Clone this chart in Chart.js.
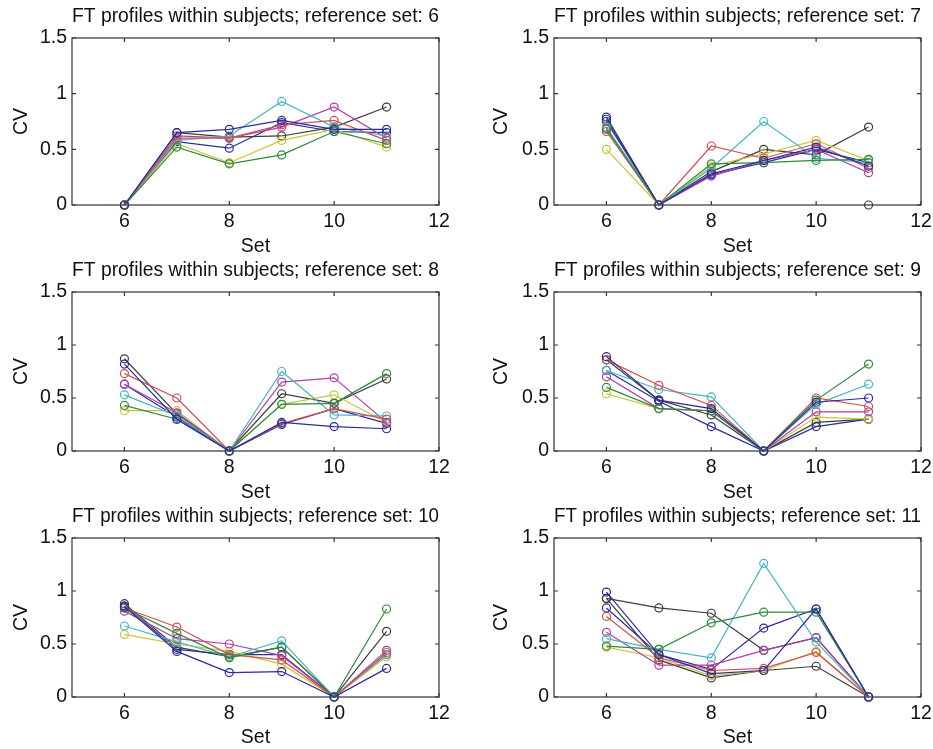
<!DOCTYPE html>
<html lang="en">
<head>
  <meta charset="UTF-8">
  <title>FT profiles within subjects</title>
  <script src="https://cdn.jsdelivr.net/npm/chart.js"></script>
  <style>
    body { margin: 0; background: #fff; overflow: hidden; }
    #figure { position: relative; width: 933px; height: 749px; overflow: hidden; background: #fff; }
    #figure canvas { position: absolute; }
  </style>
</head>
<body>
  <div id="figure"></div>
  <script>
    // Sets on the x axis, same for every panel
    const sets = [6, 7, 8, 9, 10, 11];
    const refSets = [6, 7, 8, 9, 10, 11];
    const xTicks = [6, 8, 10, 12];
    const yTicks = [0, 0.5, 1, 1.5];

    // CV per subject (one row per subject, one value per set)
    const ref6 = [
      [0, 0.65, 0.68, 0.76, 0.68, 0.68],
      [0, 0.52, 0.37, 0.45, 0.66, 0.55],
      [0, 0.60, 0.60, 0.72, 0.76, 0.58],
      [0, 0.58, 0.62, 0.93, 0.70, 0.62],
      [0, 0.62, 0.60, 0.70, 0.88, 0.60],
      [0, 0.55, 0.38, 0.58, 0.68, 0.52],
      [0, 0.65, 0.61, 0.62, 0.70, 0.88],
      [0, 0.57, 0.51, 0.74, 0.66, 0.65],
    ];
    const ref7 = [
      [0.79, 0, 0.28, 0.40, 0.52, 0.35],
      [0.68, 0, 0.37, 0.38, 0.40, 0.41],
      [0.66, 0, 0.53, 0.42, 0.55, 0.33],
      [0.70, 0, 0.33, 0.75, 0.42, 0.38],
      [0.69, 0, 0.26, 0.40, 0.50, 0.29],
      [0.50, 0, 0.35, 0.46, 0.58, 0.40],
      [0.77, 0, 0.30, 0.50, 0.45, 0.70],
      [0.75, 0, 0.27, 0.38, 0.50, 0.38],
      [null, null, null, null, null, 0],
    ];
    const ref8 = [
      [0.82, 0.30, 0, 0.27, 0.23, 0.21],
      [0.43, 0.30, 0, 0.44, 0.45, 0.73],
      [0.73, 0.50, 0, 0.26, 0.40, 0.30],
      [0.53, 0.33, 0, 0.75, 0.34, 0.33],
      [0.63, 0.36, 0, 0.65, 0.69, 0.27],
      [0.38, 0.38, 0, 0.44, 0.53, 0.27],
      [0.87, 0.35, 0, 0.54, 0.45, 0.68],
      [0.63, 0.32, 0, 0.25, 0.40, 0.26],
    ];
    const ref9 = [
      [0.89, 0.48, 0.40, 0, 0.46, 0.50],
      [0.60, 0.40, 0.38, 0, 0.48, 0.82],
      [0.86, 0.62, 0.43, 0, 0.50, 0.42],
      [0.76, 0.58, 0.51, 0, 0.44, 0.63],
      [0.70, 0.40, 0.38, 0, 0.37, 0.37],
      [0.54, 0.40, 0.38, 0, 0.32, 0.30],
      [0.86, 0.48, 0.34, 0, 0.27, 0.30],
      [0.76, 0.47, 0.23, 0, 0.23, 0.30],
    ];
    const ref10 = [
      [0.85, 0.43, 0.23, 0.24, 0, 0.27],
      [0.84, 0.60, 0.37, 0.47, 0, 0.83],
      [0.84, 0.66, 0.40, 0.35, 0, 0.42],
      [0.67, 0.52, 0.38, 0.53, 0, 0.40],
      [0.81, 0.55, 0.50, 0.39, 0, 0.44],
      [0.59, 0.50, 0.43, 0.31, 0, 0.38],
      [0.88, 0.47, 0.38, 0.47, 0, 0.62],
      [0.86, 0.45, 0.40, 0.40, 0, 0.40],
    ];
    const ref11 = [
      [0.99, 0.40, 0.22, 0.25, 0.83, 0],
      [0.48, 0.45, 0.70, 0.80, 0.80, 0],
      [0.76, 0.37, 0.25, 0.27, 0.42, 0],
      [0.55, 0.45, 0.37, 1.26, 0.52, 0],
      [0.61, 0.30, 0.30, 0.44, 0.56, 0],
      [0.47, 0.37, 0.20, 0.25, 0.43, 0],
      [0.93, 0.84, 0.79, 0.44, 0.56, 0],
      [0.84, 0.40, 0.26, 0.65, 0.83, 0],
      [0.93, 0.35, 0.18, 0.25, 0.29, 0],
    ];
    const panels = [ref6, ref7, ref8, ref9, ref10, ref11];

    // matlab-ish line colour order
    const colorOrder = ['b', 'g', 'r', 'c', 'm', 'y', 'k', 'b', 'k'];
    const palette = {
      b: '#2b2b9c', g: '#2e8a3a', r: '#d2504f', c: '#46b4c6',
      m: '#b23ea6', y: '#c9c43c', k: '#3c3c3c',
    };

    // grid of subplots (px)
    const cols = [
      { left: 0, width: 466, padLeft: 0, padRight: 27, yw: 72 },
      { left: 462, width: 480, padLeft: 18, padRight: 21, yw: 74 },
    ];
    const rows = [
      { top: 0, height: 258, xh: 53 },
      { top: 254, height: 250, xh: 53 },
      { top: 500, height: 249, xh: 52 },
    ];

    const textColor = '#111';
    const axisColor = '#333';
    const tickLen = 4;
    const font = { family: "'Liberation Sans', Arial, sans-serif", size: 19.5, weight: 'normal', lineHeight: '22px' };

    // box round the axes + inward ticks on all four sides
    const boxPlugin = {
      id: 'matlabBox',
      beforeDatasetsDraw(chart) {
        const { ctx, chartArea: a, scales: { x, y } } = chart;
        ctx.save();
        ctx.strokeStyle = axisColor;
        ctx.lineWidth = 1.2;
        ctx.strokeRect(a.left, a.top, a.right - a.left, a.bottom - a.top);
        ctx.beginPath();
        xTicks.forEach(v => {
          const px = x.getPixelForValue(v);
          ctx.moveTo(px, a.bottom); ctx.lineTo(px, a.bottom - tickLen);
          ctx.moveTo(px, a.top); ctx.lineTo(px, a.top + tickLen);
        });
        yTicks.forEach(v => {
          const py = y.getPixelForValue(v);
          ctx.moveTo(a.left, py); ctx.lineTo(a.left + tickLen, py);
          ctx.moveTo(a.right, py); ctx.lineTo(a.right - tickLen, py);
        });
        ctx.stroke();
        ctx.restore();
      },
    };

    const figure = document.getElementById('figure');

    panels.forEach((rowsOfData, i) => {
      const col = cols[i % 2];
      const row = rows[Math.floor(i / 2)];

      const canvas = document.createElement('canvas');
      canvas.width = col.width;
      canvas.height = row.height;
      canvas.style.left = col.left + 'px';
      canvas.style.top = row.top + 'px';
      figure.appendChild(canvas);

      const datasets = rowsOfData.map((vals, j) => {
        const color = palette[colorOrder[j % colorOrder.length]];
        return {
          data: vals.map((v, k) => ({ x: sets[k], y: v })),
          borderColor: color,
          borderWidth: 1.2,
          pointRadius: 4,
          pointBorderWidth: 1.2,
          pointBorderColor: color,
          pointBackgroundColor: 'rgba(0,0,0,0)',
          tension: 0,
          spanGaps: false,
          clip: false,
        };
      });

      new Chart(canvas.getContext('2d'), {
        type: 'line',
        data: { datasets: datasets },
        options: {
          responsive: false,
          animation: false,
          devicePixelRatio: 1,
          layout: { padding: { left: col.padLeft, right: col.padRight, top: 0, bottom: 0 } },
          plugins: {
            legend: { display: false },
            tooltip: { enabled: false },
            title: {
              display: true,
              text: 'FT profiles within subjects; reference set: ' + refSets[i],
              fullSize: false,
              color: textColor,
              font: font,
              padding: { top: 6, bottom: 10 },
            },
          },
          scales: {
            x: {
              type: 'linear',
              min: 5,
              max: 12,
              afterBuildTicks: s => { s.ticks = xTicks.map(v => ({ value: v })); },
              afterFit: s => { s.height = row.xh; },
              grid: { display: false, drawTicks: false },
              border: { display: false },
              ticks: { color: textColor, font: font, padding: 6, maxRotation: 0, autoSkip: false },
              title: { display: true, text: 'Set', color: textColor, font: font, padding: { top: 0, bottom: 0 } },
            },
            y: {
              type: 'linear',
              min: 0,
              max: 1.5,
              afterBuildTicks: s => { s.ticks = yTicks.map(v => ({ value: v })); },
              afterFit: s => { s.width = col.yw; },
              grid: { display: false, drawTicks: false },
              border: { display: false },
              ticks: { color: textColor, font: font, padding: 5, callback: v => String(v) },
              title: { display: true, text: 'CV', color: textColor, font: font, padding: { top: 11, bottom: 0 } },
            },
          },
        },
        plugins: [boxPlugin],
      });
    });
  </script>
</body>
</html>
